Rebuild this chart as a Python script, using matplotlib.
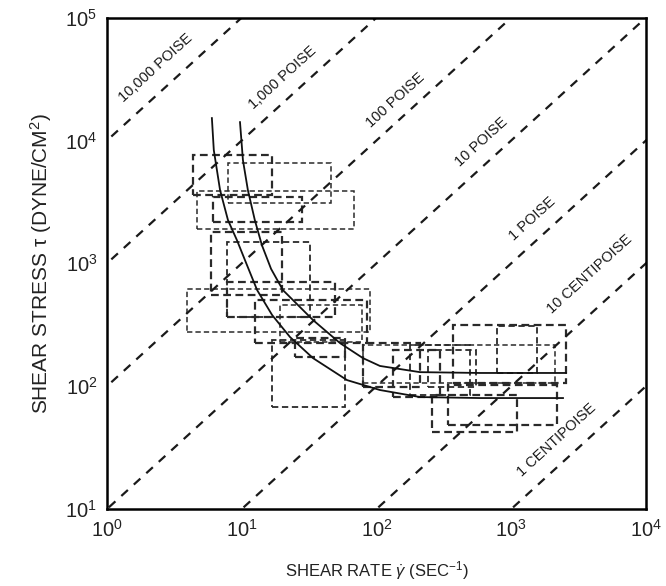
import matplotlib
matplotlib.use('Agg')
import matplotlib.pyplot as plt
from matplotlib.patches import Rectangle
import numpy as np

plt.rcParams['font.family'] = ['Liberation Sans', 'DejaVu Sans']
plt.rcParams['mathtext.fontset'] = 'custom'
plt.rcParams['mathtext.rm'] = 'Liberation Sans'
plt.rcParams['mathtext.it'] = 'Liberation Sans:italic'

# constant viscosity lines (poise) and their labels
viscosities = [10000, 1000, 100, 10, 1, 0.1, 0.01]
visc_labels = ['10,000 POISE', '1,000 POISE', '100 POISE', '10 POISE',
               '1 POISE', '10 CENTIPOISE', '1 CENTIPOISE']
label_rate = [2.31, 20.2, 137, 597, 1426, 3840, 2184]
label_stress = [38700, 32700, 21300, 9680, 2290, 817, 36.4]

# fitted curves (shear rate, shear stress)
curve1_rate = [6.0, 6.2, 6.9, 7.9, 9.2, 11.0, 13.0, 16.8, 22.8, 33.8, 60.4, 106, 210, 586, 2420]
curve1_stress = [15200, 8340, 3940, 2245, 1545, 950, 605, 379, 251, 169, 112, 93, 81.5, 80, 80]
curve2_rate = [9.7, 10.2, 11.1, 12.5, 14.1, 16.5, 20.2, 33.8, 53.6, 79.4, 106, 210, 586, 2550]
curve2_stress = [14090, 6910, 3940, 2245, 1406, 900, 605, 345, 224, 169, 146, 130, 128, 128]

# measured ranges (rate low, rate high, stress low, stress high)
rate_lo = [4.35, 7.91, 4.66, 6.12, 5.91, 7.78, 7.78, 3.93, 12.5, 19.2, 16.8, 24.8,
           79.4, 370, 783, 79.4, 241, 258, 339, 132, 177]
rate_hi = [16.8, 45.9, 68.1, 28.0, 19.9, 32.1, 49.2, 89.5, 85.1, 78.0, 58.4, 58.4,
           210, 2547, 1552, 2113, 547, 1104, 2188, 296, 494]
stress_lo = [3590, 3090, 1900, 2165, 551, 365, 365, 275, 224, 229, 67.6, 173,
             98, 106, 128, 106, 98, 42.4, 48.2, 81.5, 84.7]
stress_hi = [7590, 6540, 3870, 3460, 1795, 1487, 703, 617, 502, 457, 237, 246,
             224, 314, 308, 216, 197, 84.7, 102, 197, 216]
box_weight = [1.6, 1.1, 1.1, 1.6, 1.6, 1.3, 1.6, 1.1, 1.6, 1.1, 1.3, 1.6,
              1.6, 1.6, 1.3, 1.1, 1.3, 1.6, 1.6, 1.6, 1.3]

fig = plt.figure(figsize=(6.66, 5.86), dpi=100)
ax = fig.add_axes([0.1607, 0.1314, 0.8093, 0.8386])
ax.set_xscale('log')
ax.set_yscale('log')
ax.set_xlim(1, 1e4)
ax.set_ylim(10, 1e5)

rate = np.logspace(-2, 5, 50)
for mu, lab, lx, ly in zip(viscosities, visc_labels, label_rate, label_stress):
    line, = ax.plot(rate, mu * rate, color='#1a1a1a', lw=1.6)
    line.set_dashes([4, 3.6])
    ax.text(lx, ly, lab, rotation=42.4, ha='center', va='center',
            fontsize=10.5, color='#1a1a1a', rotation_mode='anchor')

for g0, g1, t0, t1, w in zip(rate_lo, rate_hi, stress_lo, stress_hi, box_weight):
    r = Rectangle((g0, t0), g1 - g0, t1 - t0, fill=False, edgecolor='#2a2a2a',
                  lw=w, linestyle=(0, (3.5, 2)))
    ax.add_patch(r)

ax.plot(curve1_rate, curve1_stress, color='#111111', lw=1.3)
ax.plot(curve2_rate, curve2_stress, color='#111111', lw=1.3)

for s in ax.spines.values():
    s.set_linewidth(1.8)
ax.tick_params(which='both', length=0, labelsize=14.5, colors='#222222', pad=7)
ax.set_xticks([1, 10, 100, 1000, 10000])
ax.set_yticks([10, 100, 1000, 10000, 100000])
ax.minorticks_off()

ax.set_xlabel('SHEAR RATE $\\dot{\\gamma}$ (SEC$^{-1}$)', fontsize=12,
              color='#222222', labelpad=13)
ax.set_ylabel('SHEAR STRESS τ (DYNE/CM$^{2}$)', fontsize=15,
              color='#222222', labelpad=8)

fig.savefig('out.png', dpi=100)
